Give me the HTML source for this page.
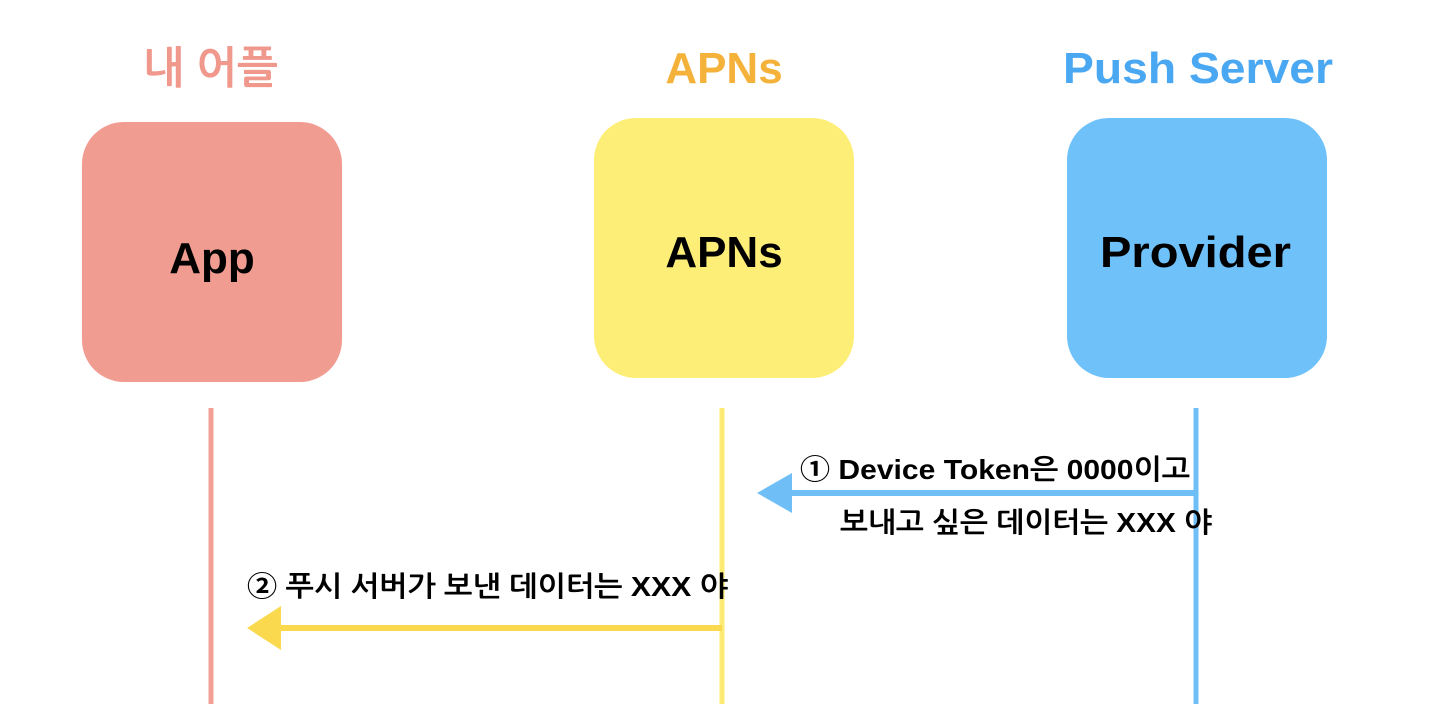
<!DOCTYPE html>
<html><head><meta charset="utf-8"><style>
body{margin:0;background:#fff}
svg text{font-family:"Liberation Sans","NanumGothic","Noto Sans CJK KR",sans-serif;font-weight:bold}
</style></head><body>
<svg width="1438" height="704" xmlns="http://www.w3.org/2000/svg">
<text x="143" y="83" font-size="44" fill="#F0988C" textLength="135" lengthAdjust="spacingAndGlyphs">내 어플</text>
<text x="724" y="83" font-size="44" fill="#F5B23A" text-anchor="middle">APNs</text>
<text x="1063" y="83" font-size="44" fill="#4AA7F2" textLength="270" lengthAdjust="spacingAndGlyphs">Push Server</text>
<rect x="82" y="122" width="260" height="260" rx="42" fill="#F19C91"/>
<rect x="594" y="118" width="260" height="260" rx="42" fill="#FDEE78"/>
<rect x="1067" y="118" width="260" height="260" rx="42" fill="#6FC1F9"/>
<text x="212" y="273" font-size="44" fill="#000" text-anchor="middle">App</text>
<text x="724" y="267" font-size="44" fill="#000" text-anchor="middle">APNs</text>
<text x="1100" y="267" font-size="44" fill="#000" textLength="191" lengthAdjust="spacingAndGlyphs">Provider</text>
<line x1="211" y1="408" x2="211" y2="704" stroke="#F2A096" stroke-width="5"/>
<line x1="722" y1="408" x2="722" y2="704" stroke="#FCEB72" stroke-width="5"/>
<line x1="1196" y1="408" x2="1196" y2="704" stroke="#6FBEF5" stroke-width="5"/>
<line x1="1196" y1="493" x2="780" y2="493" stroke="#6FBEF5" stroke-width="6"/>
<polygon points="757,493 792,473 792,513" fill="#6FBEF5"/>
<line x1="722" y1="628" x2="270" y2="628" stroke="#FAD94E" stroke-width="6"/>
<polygon points="247,628 281,606 281,650" fill="#FAD94E"/>
<text x="800" y="479" font-size="28" fill="#000" textLength="390" lengthAdjust="spacingAndGlyphs">① Device Token은 0000이고</text>
<text x="840" y="532" font-size="28" fill="#000" textLength="372" lengthAdjust="spacingAndGlyphs">보내고 싶은 데이터는 XXX 야</text>
<text x="247" y="596" font-size="28" fill="#000" textLength="481" lengthAdjust="spacingAndGlyphs">② 푸시 서버가 보낸 데이터는 XXX 야</text>
</svg>
</body></html>
